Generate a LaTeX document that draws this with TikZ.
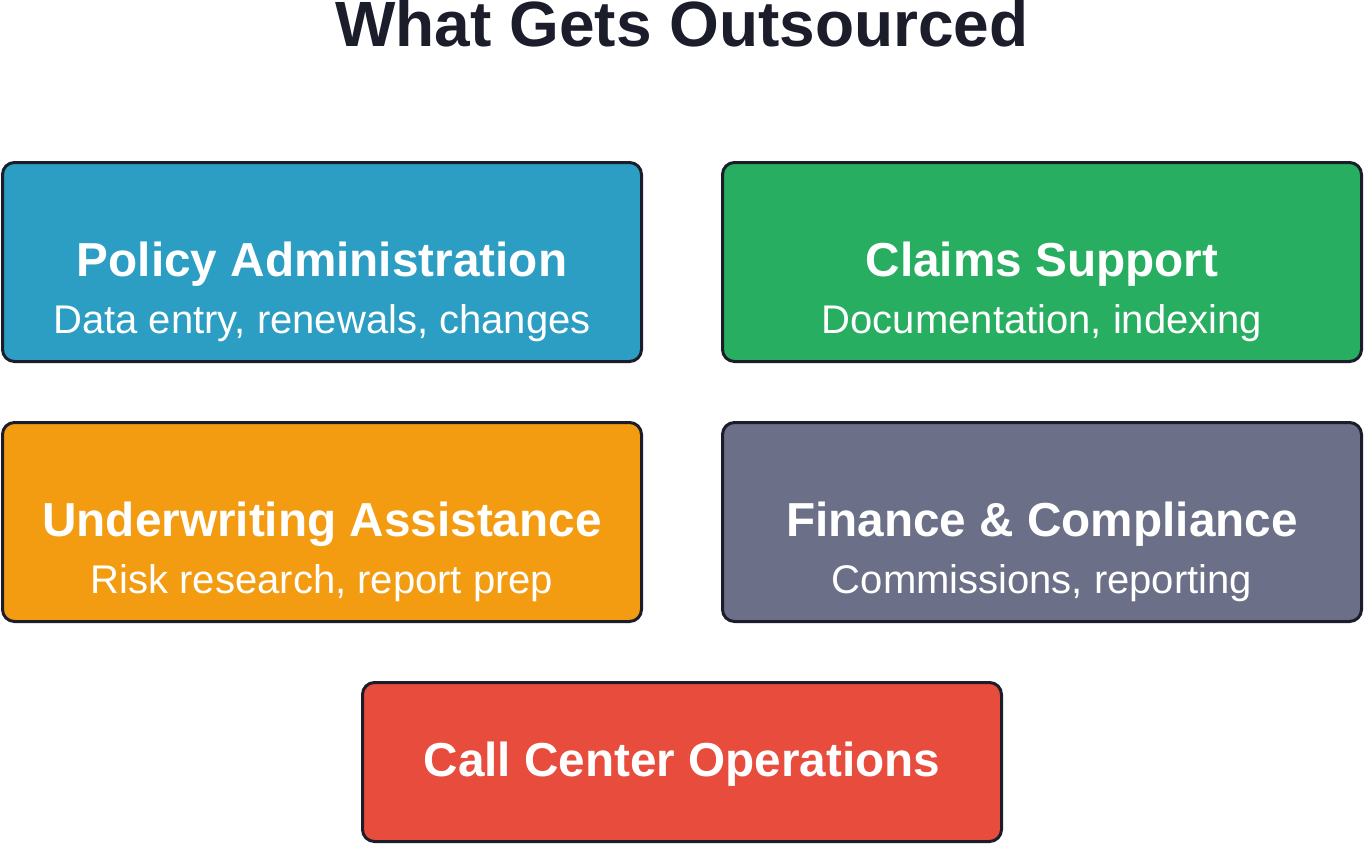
\documentclass[tikz,border=0pt]{standalone}
\usepackage{fontspec}
\setmainfont{Liberation Sans}
\usepackage{xcolor}
\usepackage{tikz}
\usetikzlibrary{positioning}
\definecolor{inkdark}{HTML}{1C1D2B}
\definecolor{policyblue}{HTML}{2C9EC4}
\definecolor{claimgreen}{HTML}{27AE60}
\definecolor{underorange}{HTML}{F39C12}
\definecolor{finslate}{HTML}{6B6F87}
\definecolor{callred}{HTML}{E74C3C}
\tikzstyle{card}=[draw=inkdark,line width=3pt,rounded corners=12pt,minimum width=639pt,minimum height=199pt,inner sep=0pt]
\tikzstyle{head}=[text=white,font=\fontsize{47.7}{56}\selectfont\bfseries,anchor=base,inner sep=0pt]
\tikzstyle{sub}=[text=white,font=\fontsize{40}{48}\selectfont,anchor=base,inner sep=0pt]
\begin{document}
\begin{tikzpicture}[x=1pt,y=-1pt]
\useasboundingbox (0,0) rectangle (1364,844);
\node[anchor=base,inner sep=0pt,text=inkdark,font=\fontsize{64}{72}\selectfont\bfseries] (ttl) at (682,46) {What Gets Outsourced};
% boxes
\node[card,fill=policyblue] (pol) at (322,262) {};
\node[card,fill=claimgreen] (clm) at (1042,262) {};
\node[card,fill=underorange] (und) at (322,522) {};
\node[card,fill=finslate] (fin) at (1042,522) {};
\node[card,fill=callred,minimum height=159pt] (cal) at (682,762) {};
% texts
\node[head] (polh) at (322,276) {Policy Administration};
\node[sub] (pols) at (322,333) {Data entry, renewals, changes};
\node[head] (clmh) at (1042,276) {Claims Support};
\node[sub] (clms) at (1042,333) {Documentation, indexing};
\node[head] (undh) at (322,536) {Underwriting Assistance};
\node[sub] (unds) at (322,593) {Risk research, report prep};
\node[head] (finh) at (1042,536) {Finance \& Compliance};
\node[sub] (fins) at (1042,593) {Commissions, reporting};
\node[head] (calh) at (682,776) {Call Center Operations};
\end{tikzpicture}
\end{document}
